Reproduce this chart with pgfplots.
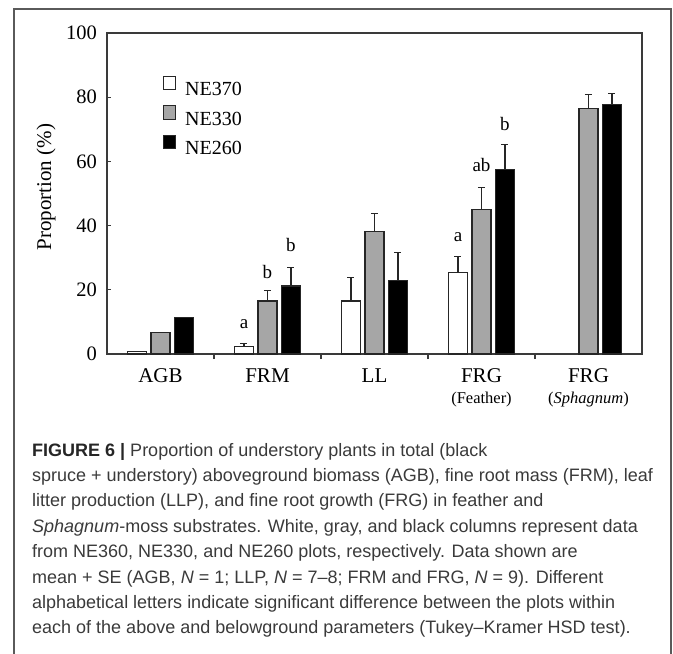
\documentclass[border=0pt]{standalone}
\usepackage{fontspec}
\setmainfont{Liberation Serif}
\newfontfamily\capfont{Liberation Sans}
\usepackage{pgfplots}
\pgfplotsset{compat=1.18}
\definecolor{bargray}{HTML}{A6A6A6}
\definecolor{edge}{HTML}{262626}
\definecolor{axisc}{HTML}{3A3A3A}
\definecolor{framec}{HTML}{5A5A5A}
\definecolor{captext}{HTML}{3A3A3A}
\begin{document}
\begin{tikzpicture}
\path[use as bounding box] (0pt,0pt) rectangle (673pt,-654pt);
\draw[framec, line width=1.2pt] (14pt,-654pt) -- (14pt,-9pt) -- (671pt,-9pt) -- (671pt,-654pt);
\begin{axis}[
  at={(107pt,-354pt)}, anchor=south west,
  scale only axis, width=535pt, height=321pt,
  xmin=-0.5, xmax=4.5, ymin=0, ymax=100,
  clip=false,
  axis line style={axisc, line width=1.2pt},
  ybar=4.5pt, bar width=19pt,
  xtick={0,1,2,3,4}, xticklabels={AGB,FRM,LL,FRG,FRG},
  minor xtick={0.5,1.5,2.5,3.5},
  ytick={0,20,40,60,80,100},
  tick pos=left,
  tick align=inside,
  major tick length=4pt,
  minor tick length=5pt,
  major x tick style={draw=none},
  minor x tick style={axisc, line width=1.2pt, yshift=-5pt},
  major y tick style={axisc, line width=1.2pt},
  /pgf/number format/assume math mode=true,
  yticklabel style={font=\fontsize{20.5}{24}\selectfont, inner sep=0pt, xshift=-10pt, anchor=east},
  xticklabel style={font=\fontsize{21}{24}\selectfont, inner sep=0pt, anchor=base, yshift=-28pt},
  ylabel={Proportion (\%)},
  ylabel style={font=\fontsize{21}{24}\selectfont, at={(axis description cs:-0.114,0.52)}, anchor=center},
  legend image code/.code={\draw[#1, line width=1pt] (0pt,0pt) rectangle (12pt,13.5pt);},
  legend cell align=left,
  legend style={at={(axis description cs:0.1047,0.867)}, anchor=north west, draw=none, fill=none,
    inner sep=0pt, row sep=6pt, font=\fontsize{20}{20}\selectfont,
    /tikz/every odd column/.append style={column sep=7pt}},
  error bars/y dir=plus, error bars/y explicit,
  error bars/error bar style={edge, line width=1.1pt},
  error bars/error mark options={edge, mark size=3.5pt, line width=1.1pt, rotate=90},
]
\addplot[fill=white, draw=edge, line width=1.1pt] coordinates {
  (0,0.8) +- (0,0)
  (1,2.3) +- (0,0.9)
  (2,16.5) +- (0,7.3)
  (3,25.3) +- (0,5.0)
};
\addplot[fill=bargray, draw=edge, line width=1.1pt] coordinates {
  (0,6.6) +- (0,0)
  (1,16.5) +- (0,3.2)
  (2,38.3) +- (0,5.5)
  (3,44.9) +- (0,6.9)
  (4,76.4) +- (0,4.4)
};
\addplot[fill=black, draw=edge, line width=1.1pt] coordinates {
  (0,11.3) +- (0,0)
  (1,21.2) +- (0,5.8)
  (2,23.0) +- (0,8.6)
  (3,57.5) +- (0,7.8)
  (4,77.6) +- (0,3.5)
};
\legend{NE370, NE330, NE260}
\begin{scope}[every node/.style={font=\fontsize{19}{20}\selectfont, inner sep=0pt}]
\node at (axis cs:1,9.3) [xshift=-23.5pt] {a};
\node at (axis cs:1,25.5) {b};
\node at (axis cs:1,34.0) [xshift=23.5pt] {b};
\node at (axis cs:3,36.5) [xshift=-23.5pt] {a};
\node at (axis cs:3,59.0) {ab};
\node at (axis cs:3,71.5) [xshift=23.5pt] {b};
\end{scope}
\node[font=\fontsize{16.5}{18}\selectfont, anchor=base, inner sep=0pt] at (axis cs:3,0) [yshift=-49.5pt] {(Feather)};
\node[font=\fontsize{16.5}{18}\selectfont, anchor=base, inner sep=0pt] at (axis cs:4,0) [yshift=-49.5pt] {(\textit{Sphagnum})};
\end{axis}
\begin{scope}[every node/.style={anchor=base west, inner sep=0pt, text=captext, font=\capfont\fontsize{18}{20}\selectfont}]
\node at (32pt,-456pt) {\textbf{\color{black!85}FIGURE 6 |} Proportion of understory plants in total (black};
\node at (32pt,-481.4pt) {spruce + understory) aboveground biomass (AGB), fine root mass (FRM), leaf};
\node at (32pt,-506.8pt) {litter production (LLP), and fine root growth (FRG) in feather and};
\node at (32pt,-532.2pt) {\textit{Sphagnum}-moss substrates. White, gray, and black columns represent data};
\node at (32pt,-557.6pt) {from NE360, NE330, and NE260 plots, respectively. Data shown are};
\node at (32pt,-583pt) {mean + SE (AGB, \textit{N} = 1; LLP, \textit{N} = 7–8; FRM and FRG, \textit{N} = 9). Different};
\node at (32pt,-608.4pt) {alphabetical letters indicate significant difference between the plots within};
\node at (32pt,-633.8pt) {each of the above and belowground parameters (Tukey–Kramer HSD test).};
\end{scope}
\end{tikzpicture}
\end{document}
